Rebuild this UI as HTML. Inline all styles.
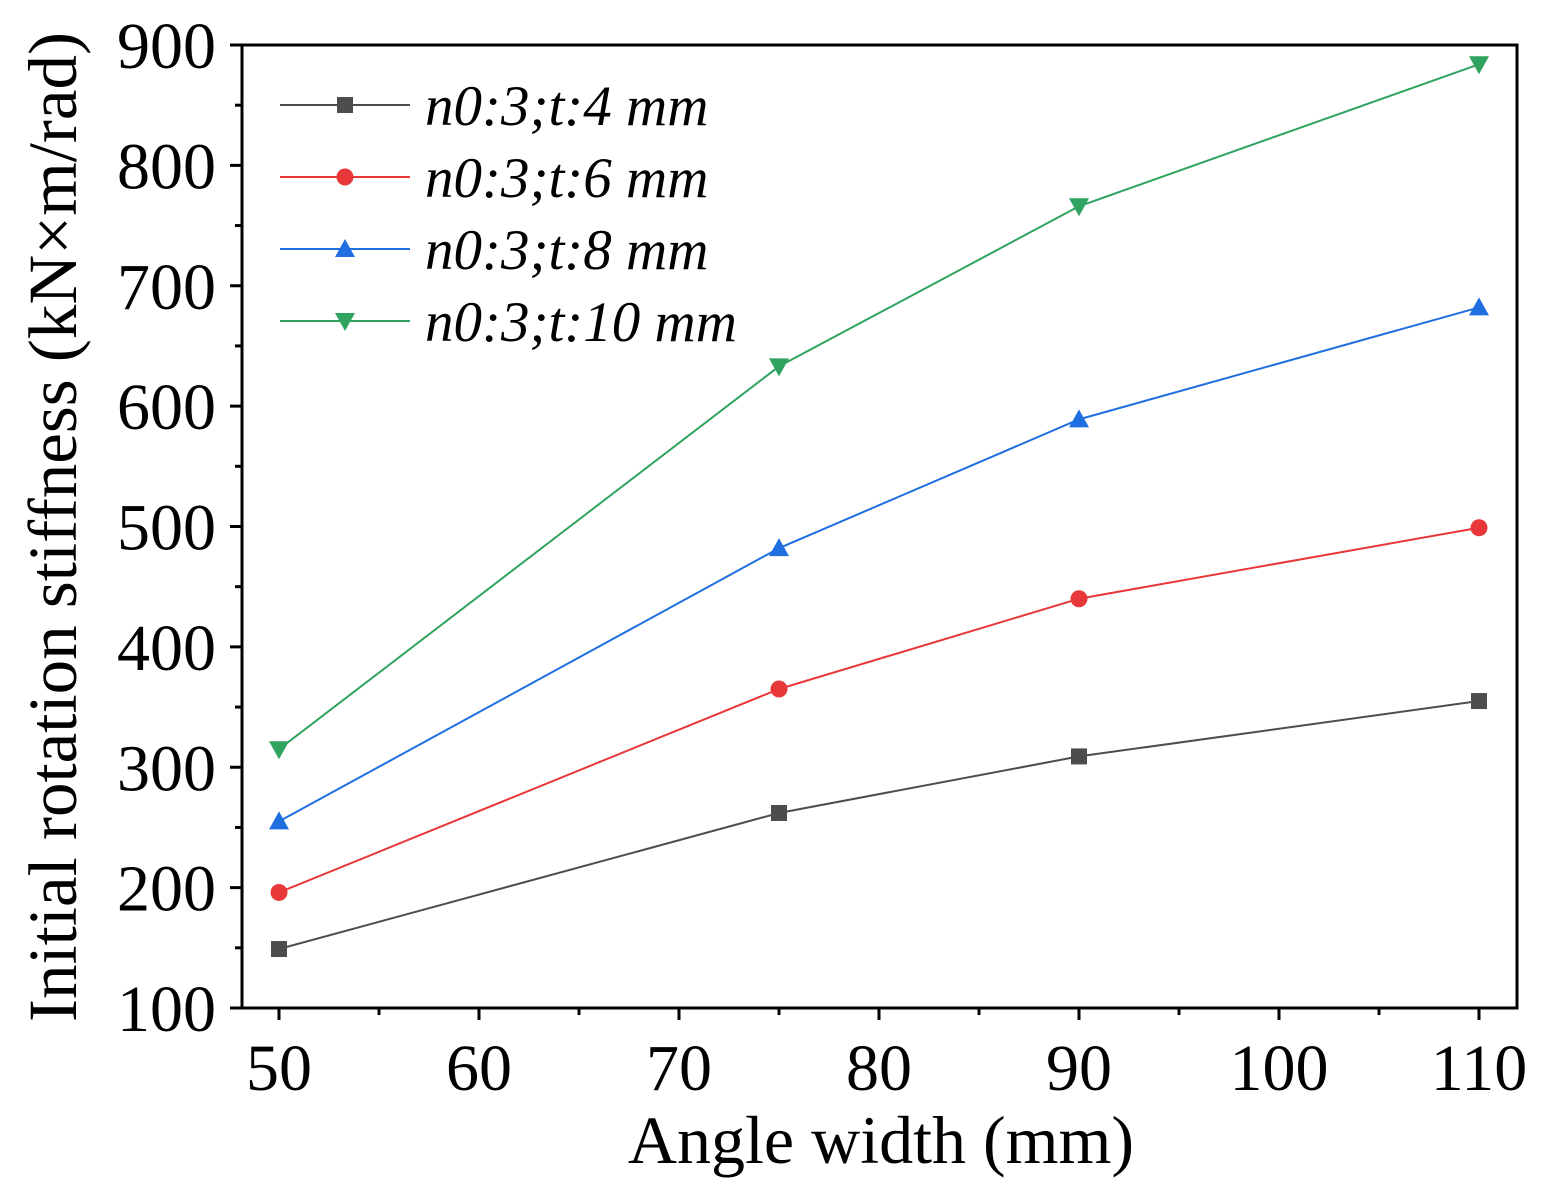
<!DOCTYPE html>
<html><head><meta charset="utf-8"><style>
body{margin:0;background:#fff}
svg{display:block;font-family:"Liberation Serif",serif}
</style></head><body>
<svg id="chart" width="1549" height="1200">
<rect width="1549" height="1200" fill="#fff"/>
<rect x="242" y="45" width="1275" height="963" fill="none" stroke="#000" stroke-width="3"/>
<g id="axes"></g>
<g id="series"></g>
<g id="legend"></g>
<text x="881" y="1163" font-size="68" text-anchor="middle">Angle width (mm)</text>
<text transform="translate(76,527) rotate(-90)" font-size="69" text-anchor="middle">Initial rotation stiffness (kN×m/rad)</text>
</svg>
<script>
const categories=[50,75,90,110];
const seriesNames=["n0:3;t:4 mm","n0:3;t:6 mm","n0:3;t:8 mm","n0:3;t:10 mm"];
const s4=[149,262,309,355];
const s6=[196,365,440,499];
const s8=[255,482,589,682];
const s10=[315,633,766,884];
const xTicks=[50,60,70,80,90,100,110];
const yTicks=[100,200,300,400,500,600,700,800,900];
const colors=["#4d4d4d","#e8383a","#1f6fe0","#2fa35f"];
const markers=["square","circle","up","down"];
const NS="http://www.w3.org/2000/svg";
const X=v=>279+(v-50)*20;
const Y=v=>1008-(v-100)*1.20375;
function mk(t,a,p){const e=document.createElementNS(NS,t);for(const k in a)e.setAttribute(k,a[k]);p.appendChild(e);return e;}
const axes=document.getElementById('axes');
xTicks.forEach(v=>{
 const l=mk('line',{x1:X(v),x2:X(v),y1:1008,y2:1020,stroke:'#000','stroke-width':3},axes);
 
 
 const t=mk('text',{x:X(v),y:1090,'font-size':66,'text-anchor':'middle'},axes);t.textContent=v;
 
 
 if(v<110){const m=mk('line',{x1:X(v+5),x2:X(v+5),y1:1008,y2:1015,stroke:'#000','stroke-width':3},axes);
 
 }
});
yTicks.forEach(v=>{
 const l=mk('line',{x1:230,x2:242,y1:Y(v),y2:Y(v),stroke:'#000','stroke-width':3},axes);
 
 
 const t=mk('text',{x:216,y:Y(v)+23,'font-size':66,'text-anchor':'end'},axes);t.textContent=v;
 
 
 if(v<900){const m=mk('line',{x1:235,x2:242,y1:Y(v+50),y2:Y(v+50),stroke:'#000','stroke-width':3},axes);
 
 }
});
function marker(g,type,x,y,c){
 let e;
 if(type=='square')e=mk('rect',{x:x-8,y:y-8,width:16,height:16,fill:c},g);
 else if(type=='circle')e=mk('circle',{cx:x,cy:y,r:8.5,fill:c},g);
 else if(type=='up')e=mk('polygon',{points:`${x},${y-10} ${x-10},${y+8} ${x+10},${y+8}`,fill:c},g);
 else e=mk('polygon',{points:`${x},${y+10} ${x-10},${y-8} ${x+10},${y-8}`,fill:c},g);
 return e;
}
const sg=document.getElementById('series');
[s4,s6,s8,s10].forEach((d,i)=>{
 const g=mk('g',{},sg);
 
 
 const p=mk('polyline',{points:d.map((v,j)=>X(categories[j])+','+Y(v)).join(' '),fill:'none',stroke:colors[i],'stroke-width':2},g);
 
 
 d.forEach((v,j)=>{const m=marker(g,markers[i],X(categories[j]),Y(v),colors[i]);
  
  });
});
const lg=document.getElementById('legend');
seriesNames.forEach((n,i)=>{
 const y=105+i*72;
 const g=mk('g',{},lg);
 
 
 mk('line',{x1:280,x2:410,y1:y,y2:y,stroke:colors[i],'stroke-width':2},g);
 marker(g,markers[i],345,y,colors[i]);
 const t=mk('text',{x:425,y:y+20,'font-size':57,'font-style':'italic'},g);t.textContent=n;
});
</script>
</body></html>
